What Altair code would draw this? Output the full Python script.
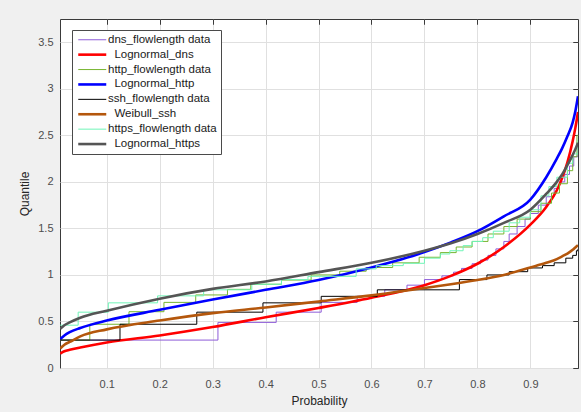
import altair as alt
import pandas as pd

IND = "\u200b\u00a0\u00a0"
ORDER = ["dns_flowlength data", IND + "Lognormal_dns", "http_flowlength data", IND + "Lognormal_http",
         "ssh_flowlength data", IND + "Weibull_ssh", "https_flowlength data", IND + "Lognormal_https"]
COLORS = ["#8E5CD8", "#FF0000", "#77B530", "#0000FF", "#000000", "#B4570C", "#70F5B8", "#555555"]
WIDTHS = [1, 2.6, 1, 2.6, 1, 2.6, 1, 2.6]

X_TICKS = [0.1, 0.2, 0.3, 0.4, 0.5, 0.6, 0.7, 0.8, 0.9]
Y_TICKS = [0, 0.5, 1, 1.5, 2, 2.5, 3, 3.5]

# fitted curves
P_FIT = [0.012, 0.02, 0.03, 0.05, 0.1, 0.2, 0.3, 0.4, 0.5, 0.6, 0.7, 0.75, 0.8, 0.85,
         0.9, 0.93, 0.95, 0.96, 0.97, 0.98, 0.985, 0.99]
Q_LOGN_DNS = [0.155, 0.18, 0.195, 0.22, 0.275, 0.35, 0.44, 0.545, 0.645, 0.755, 0.89, 0.99,
              1.12, 1.30, 1.54, 1.73, 1.91, 2.04, 2.21, 2.44, 2.58, 2.75]
Q_LOGN_HTTP = [0.31, 0.35, 0.385, 0.43, 0.51, 0.625, 0.735, 0.84, 0.945, 1.08, 1.245, 1.35,
               1.47, 1.63, 1.81, 2.05, 2.25, 2.36, 2.49, 2.64, 2.76, 2.92]
Q_WEIB_SSH = [0.21, 0.25, 0.28, 0.34, 0.415, 0.51, 0.59, 0.65, 0.715, 0.78, 0.86, 0.90,
              0.945, 1.0, 1.08, 1.13, 1.17, 1.20, 1.23, 1.27, 1.295, 1.32]
Q_LOGN_HTTPS = [0.42, 0.46, 0.49, 0.54, 0.615, 0.745, 0.85, 0.93, 1.03, 1.13, 1.26, 1.34,
                1.44, 1.56, 1.70, 1.87, 2.0, 2.08, 2.18, 2.29, 2.35, 2.42]

P_DNS = [0.012, 0.31, 0.42, 0.505, 0.573, 0.625, 0.667, 0.70, 0.733, 0.755, 0.77, 0.79, 0.806,
         0.82, 0.835, 0.85, 0.86, 0.875, 0.89, 0.90, 0.915, 0.93, 0.945, 0.955, 0.965, 0.974,
         0.982, 0.99]
Q_DNS = [0.30, 0.49, 0.60, 0.705, 0.77, 0.84, 0.89, 0.95, 0.99, 1.03, 1.07, 1.12, 1.16,
         1.21, 1.28, 1.36, 1.44, 1.52, 1.60, 1.66, 1.75, 1.84, 1.93, 2.00, 2.08, 2.17,
         2.27, 2.38]
P_HTTP = [0.012, 0.068, 0.142, 0.208, 0.268, 0.328, 0.372, 0.43, 0.486, 0.54, 0.59, 0.64,
          0.69, 0.73, 0.76, 0.79, 0.82, 0.85, 0.875, 0.90, 0.92, 0.94, 0.955, 0.97, 0.98,
          0.988, 0.99]
Q_HTTP = [0.30, 0.47, 0.605, 0.705, 0.785, 0.845, 0.90, 0.945, 1.0, 1.04, 1.08, 1.13,
          1.19, 1.24, 1.30, 1.36, 1.44, 1.52, 1.60, 1.68, 1.77, 1.88, 1.98, 2.12, 2.27,
          2.50, 2.50]
P_SSH = [0.012, 0.125, 0.27, 0.395, 0.505, 0.611, 0.766, 0.818, 0.86, 0.895, 0.923, 0.945,
         0.967, 0.98, 0.987, 0.99]
Q_SSH = [0.30, 0.47, 0.60, 0.70, 0.77, 0.84, 0.95, 1.0, 1.035, 1.075, 1.10, 1.13,
         1.18, 1.21, 1.26, 1.28]
P_HTTPS = [0.012, 0.046, 0.103, 0.196, 0.283, 0.374, 0.43, 0.48, 0.571, 0.609, 0.66, 0.70,
           0.73, 0.748, 0.773, 0.79, 0.81, 0.83, 0.86, 0.88, 0.90, 0.92, 0.935, 0.95, 0.97,
           0.98, 0.99]
Q_HTTPS = [0.46, 0.60, 0.70, 0.775, 0.84, 0.90, 0.95, 0.985, 1.065, 1.10, 1.125, 1.18,
           1.225, 1.26, 1.315, 1.36, 1.40, 1.47, 1.56, 1.62, 1.70, 1.85, 1.95, 2.05, 2.20,
           2.30, 2.45]

SERIES = [
    (ORDER[0], P_DNS, Q_DNS, "data"),
    (ORDER[1], P_FIT, Q_LOGN_DNS, "fit"),
    (ORDER[2], P_HTTP, Q_HTTP, "data"),
    (ORDER[3], P_FIT, Q_LOGN_HTTP, "fit"),
    (ORDER[4], P_SSH, Q_SSH, "data"),
    (ORDER[5], P_FIT, Q_WEIB_SSH, "fit"),
    (ORDER[6], P_HTTPS, Q_HTTPS, "data"),
    (ORDER[7], P_FIT, Q_LOGN_HTTPS, "fit"),
]

FONT = "Liberation Sans"
AX_COLOR = "#3A3A3A"

xscale = alt.Scale(domain=[0.0117, 0.99], nice=False, zero=False)
yscale = alt.Scale(domain=[0, 3.75], nice=False, zero=False)

legend = alt.Legend(
    title=None, orient="none", legendX=12, legendY=11,
    symbolType="M-1,0H7", symbolSize=49, labelFont=FONT, labelFontSize=11.5,
    labelColor="#1A1A1A", fillColor="white", strokeColor="#4A4A4A",
    padding=4, rowPadding=1.9, labelOffset=20.5,
)

def axes_for(i):
    if i == 0:
        ax = alt.Axis(values=X_TICKS, grid=True, ticks=False, tickSize=0, domain=False,
                      format="~g", title="Probability", labelFont=FONT, labelFontSize=11,
                      labelColor="#4D4D4D", titleFont=FONT, titleFontSize=12,
                      titleColor="#262626", titleFontWeight="normal", labelPadding=10,
                      titlePadding=6, gridColor="#E0E0E0")
        ay = alt.Axis(values=Y_TICKS, grid=True, ticks=False, tickSize=0, domain=False,
                      format="~g", title="Quantile", labelFont=FONT, labelFontSize=11,
                      labelColor="#4D4D4D", titleFont=FONT, titleFontSize=12,
                      titleColor="#262626", titleFontWeight="normal", labelPadding=7,
                      titlePadding=6, gridColor="#E0E0E0")
        return ax, ay
    if i == 1:
        ax = alt.Axis(values=X_TICKS, grid=False, ticks=True, tickSize=5, domain=False,
                      labels=False, title=None, offset=-5, tickColor=AX_COLOR)
        ay = alt.Axis(values=Y_TICKS, grid=False, ticks=True, tickSize=5, domain=False,
                      labels=False, title=None, offset=-5, tickColor=AX_COLOR)
        return ax, ay
    if i == 2:
        ax = alt.Axis(values=X_TICKS, orient="top", grid=False, ticks=True, tickSize=5,
                      domain=False, labels=False, title=None, offset=-5, tickColor=AX_COLOR)
        ay = alt.Axis(values=Y_TICKS, orient="right", grid=False, ticks=True, tickSize=5,
                      domain=False, labels=False, title=None, offset=-5, tickColor=AX_COLOR)
        return ax, ay
    return None, None

layers = []
for i, (name, p, q, kind) in enumerate(SERIES):
    df = pd.DataFrame({"p": p, "q": q, "series": name})
    ax, ay = axes_for(i)
    interp = "step-after" if kind == "data" else "monotone"
    layer = alt.Chart(df).mark_line(interpolate=interp, clip=True).encode(
        x=alt.X("p:Q", scale=xscale, axis=ax),
        y=alt.Y("q:Q", scale=yscale, axis=ay),
        color=alt.Color("series:N", scale=alt.Scale(domain=ORDER, range=COLORS), legend=legend),
        strokeWidth=alt.StrokeWidth("series:N",
                                    scale=alt.Scale(type="ordinal", domain=ORDER, range=WIDTHS),
                                    legend=legend),
    )
    layers.append(layer)

chart = alt.layer(*layers).resolve_axis(x="independent", y="independent").properties(
    width=518, height=349,
    autosize=alt.AutoSizeParams(type="none"),
    padding={"left": 60, "top": 19, "right": 3, "bottom": 44},
    background="#F0F0F0",
).configure_view(fill="white", stroke="#3A3A3A", strokeWidth=1)

chart.save("out.html", embed_options={"renderer": "svg", "actions": False})
